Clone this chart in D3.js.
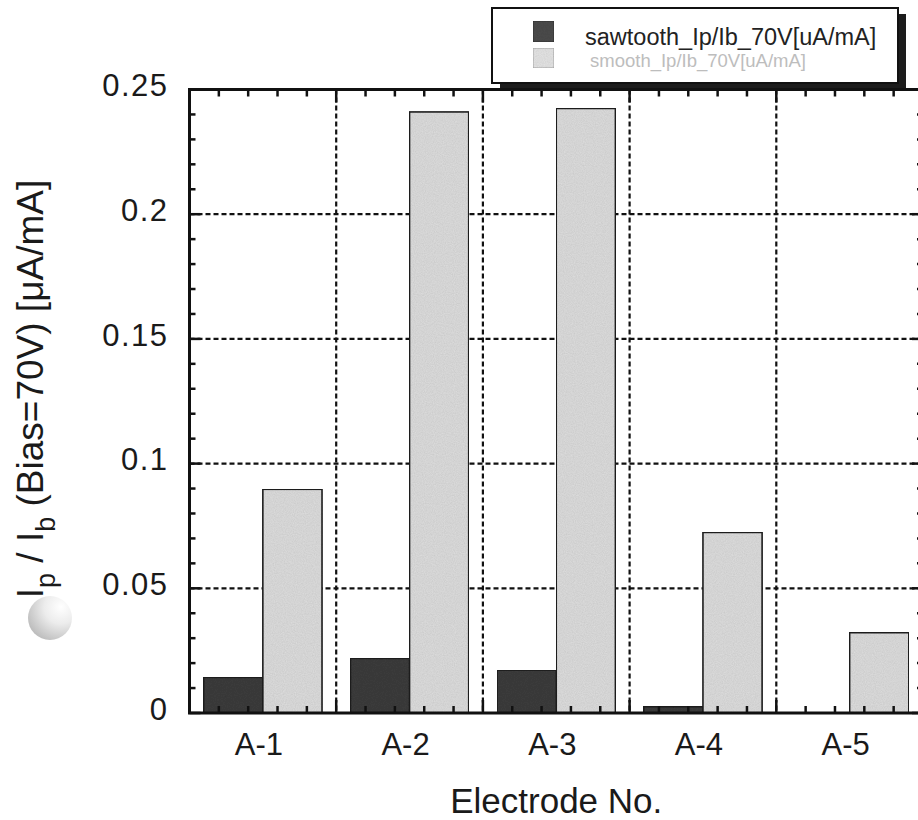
<!DOCTYPE html>
<html>
<head>
<meta charset="utf-8">
<script src="https://cdn.jsdelivr.net/npm/d3@7/dist/d3.min.js"></script>
<style>
  html, body { margin: 0; padding: 0; background: #fff; }
  svg { display: block; }
  text { font-family: "Liberation Sans", Arial, sans-serif; fill: #1a1a1a; }
</style>
</head>
<body>
<script>
// ---- data ----
const categories = ["A-1", "A-2", "A-3", "A-4", "A-5"];
const seriesNames = ["sawtooth_Ip/Ib_70V[uA/mA]", "smooth_Ip/Ib_70V[uA/mA]"];
const sawtooth = [0.0143, 0.0219, 0.0172, 0.0025, 0.0];
const smooth = [0.0897, 0.2410, 0.2424, 0.0724, 0.0322];
const yTicks = [0, 0.05, 0.1, 0.15, 0.2, 0.25];
const yTickLabels = ["0", "0.05", "0.1", "0.15", "0.2", "0.25"];
const xTitle = "Electrode No.";

// ---- layout ----
const W = 918, H = 820;
const L = 189.5, R = 923, T = 89.5, B = 713;

const svg = d3.select("body").append("svg").attr("width", W).attr("height", H);
const defs = svg.append("defs");

// grain filter for scanned look
const f = defs.append("filter").attr("id", "grain").attr("x", 0).attr("y", 0).attr("width", 1).attr("height", 1);
f.append("feTurbulence").attr("type", "fractalNoise").attr("baseFrequency", 0.9).attr("numOctaves", 2).attr("seed", 3).attr("result", "n");
f.append("feColorMatrix").attr("in", "n").attr("type", "matrix")
  .attr("values", "0 0 0 0 0  0 0 0 0 0  0 0 0 0 0  0 0 0 0.2 0").attr("result", "na");
f.append("feComposite").attr("in", "na").attr("in2", "SourceGraphic").attr("operator", "in").attr("result", "nb");
f.append("feMerge").call(m => { m.append("feMergeNode").attr("in", "SourceGraphic"); m.append("feMergeNode").attr("in", "nb"); });

const rg = defs.append("radialGradient").attr("id", "blob").attr("cx", "75%").attr("cy", "25%").attr("r", "85%");
rg.append("stop").attr("offset", "0%").attr("stop-color", "#ffffff");
rg.append("stop").attr("offset", "45%").attr("stop-color", "#ececec");
rg.append("stop").attr("offset", "100%").attr("stop-color", "#bcbcbc");

const x = d3.scaleBand().domain(categories).range([L, R]).paddingInner(0).paddingOuter(0);
const xs = d3.scaleBand().domain(seriesNames).range([0, x.bandwidth()]).paddingOuter(0.24).paddingInner(0);
const xl = d3.scaleLinear().domain([0, categories.length]).range([L, R]);
const y = d3.scaleLinear().domain([0, 0.25]).range([B, T]);
const colors = ["#3c3c3c", "#dedede"];

// ---- grid ----
const grid = svg.append("g").attr("stroke", "#111").attr("stroke-width", 2.2).attr("stroke-dasharray", "5,3");
grid.selectAll("line.h").data(yTicks.slice(1, -1)).join("line")
  .attr("x1", L).attr("x2", R).attr("y1", d => y(d)).attr("y2", d => y(d));
grid.selectAll("line.v").data(categories.slice(1)).join("line")
  .attr("x1", d => x(d)).attr("x2", d => x(d)).attr("y1", T).attr("y2", B);

// ---- bars ----
const rows = categories.map((c, i) => ({ c, vals: [sawtooth[i], smooth[i]] }));
const gb = svg.append("g");
rows.forEach(r => {
  r.vals.forEach((v, j) => {
    if (v <= 0) return;
    gb.append("rect")
      .attr("x", x(r.c) + xs(seriesNames[j]))
      .attr("y", y(v))
      .attr("width", xs.bandwidth())
      .attr("height", B - y(v))
      .attr("fill", colors[j])
      .attr("stroke", "#222")
      .attr("stroke-width", 1.6)
      .attr("filter", "url(#grain)");
  });
});

// ---- ticks (drawn from the scales) ----
const minorY = d3.range(0, 26).map(i => i * 0.01);
const minorX = d3.range(0, categories.length * 5 + 1).map(i => i / 5);
const tk = svg.append("g").attr("stroke", "#111").attr("stroke-width", 2.5);
[[L, 1], [R, -1]].forEach(([x0, dir]) => {
  tk.append("g").selectAll("line").data(minorY).join("line")
    .attr("x1", x0).attr("x2", d => x0 + dir * (Math.abs(d * 20 - Math.round(d * 20)) < 1e-6 ? 11 : 6))
    .attr("y1", d => y(d)).attr("y2", d => y(d));
});
[[B, -1], [T, 1]].forEach(([y0, dir]) => {
  tk.append("g").selectAll("line").data(minorX).join("line")
    .attr("x1", d => xl(d)).attr("x2", d => xl(d))
    .attr("y1", y0).attr("y2", d => y0 + dir * (Math.abs(d - Math.round(d)) < 1e-6 ? 13 : 7));
});

// ---- axis labels ----
svg.append("g").attr("transform", `translate(${L},0)`)
  .call(d3.axisLeft(y).tickValues(yTicks).tickSize(0).tickPadding(21).tickFormat((d, i) => yTickLabels[i]))
  .call(g => g.select(".domain").remove())
  .call(g => g.selectAll("text").attr("font-size", 31).attr("letter-spacing", 1.5)
    .attr("dy", "0.2em").style("fill", "#1a1a1a"));

svg.append("g").attr("transform", `translate(0,${B})`)
  .call(d3.axisBottom(x).tickSize(0).tickPadding(20))
  .call(g => g.select(".domain").remove())
  .call(g => g.selectAll("text").attr("font-size", 31).attr("dx", -4).attr("dy", "0.71em").style("fill", "#1a1a1a"));

// frame
svg.append("rect").attr("x", L).attr("y", T).attr("width", R - L).attr("height", B - T)
  .attr("fill", "none").attr("stroke", "#111").attr("stroke-width", 3);

// ---- titles ----
svg.append("text").attr("x", (L + R) / 2).attr("y", 813).attr("text-anchor", "middle")
  .attr("font-size", 35).text(xTitle);

const yt = svg.append("text").attr("transform", "translate(43,389) rotate(-90)")
  .attr("text-anchor", "middle").attr("font-size", 37);
yt.append("tspan").text("I");
yt.append("tspan").attr("dy", 12).attr("font-size", 27).text("p");
yt.append("tspan").attr("dy", -12).text(" / I");
yt.append("tspan").attr("dy", 12).attr("font-size", 27).text("b");
yt.append("tspan").attr("dy", -12).text(" (Bias=70V) [\u03bcA/mA]");

// scan artifact blob
svg.append("circle").attr("cx", 50).attr("cy", 618).attr("r", 22).attr("fill", "url(#blob)");

// ---- legend ----
const lg = svg.append("g");
lg.append("rect").attr("x", 500).attr("y", 14).attr("width", 406).attr("height", 74).attr("fill", "#1c1c1c");
lg.append("rect").attr("x", 492).attr("y", 8).attr("width", 406).attr("height", 75)
  .attr("fill", "#fff").attr("stroke", "#111").attr("stroke-width", 2);
lg.append("rect").attr("x", 533).attr("y", 21).attr("width", 21).attr("height", 21)
  .attr("fill", "#4e4e4e").attr("stroke", "#333").attr("filter", "url(#grain)");
lg.append("rect").attr("x", 533).attr("y", 48).attr("width", 21).attr("height", 20)
  .attr("fill", "#e6e6e6").attr("stroke", "#aaa").attr("filter", "url(#grain)");
lg.append("text").attr("x", 585).attr("y", 45).attr("font-size", 23.5).style("fill", "#222").text(seriesNames[0]);
lg.append("text").attr("x", 590).attr("y", 67).attr("font-size", 18.5).style("fill", "#bdbdbd").text(seriesNames[1]);
</script>
</body>
</html>
